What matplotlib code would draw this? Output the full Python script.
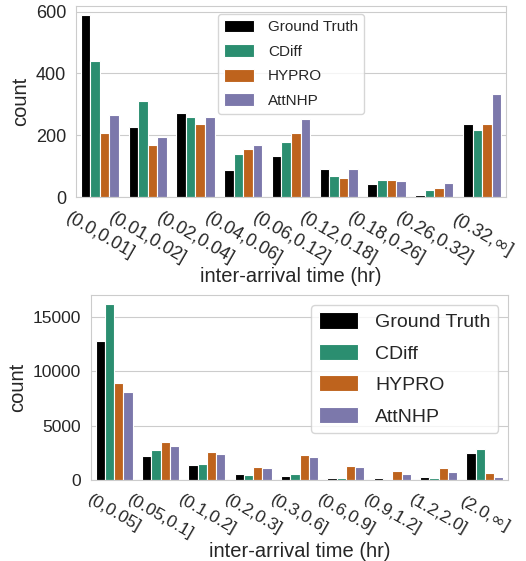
import matplotlib
matplotlib.use('Agg')
import matplotlib.pyplot as plt
import numpy as np
import seaborn as sns

sns.set_style('whitegrid')
plt.rcParams['font.family'] = ['Liberation Sans', 'DejaVu Sans']

# series names and colours (Dark2, desaturated like seaborn)
series = ['Ground Truth', 'CDiff', 'HYPRO', 'AttNHP']
colors = ['#000000', '#2b8e70', '#be631d', '#7c78ab']

# top panel
bins_top = ['(0.0,0.01]', '(0.01,0.02]', '(0.02,0.04]', '(0.04,0.06]', '(0.06,0.12]',
            '(0.12,0.18]', '(0.18,0.26]', '(0.26,0.32]', '(0.32,$\\infty$]']
gt_top = [589, 228, 273, 88, 133, 92, 43, 8, 237]
cdiff_top = [441, 311, 258, 140, 178, 68, 55, 24, 217]
hypro_top = [206, 170, 236, 154, 207, 61, 56, 29, 237]
attnhp_top = [264, 194, 259, 170, 251, 90, 52, 44, 333]

# bottom panel
bins_bot = ['(0,0.05]', '(0.05,0.1]', '(0.1,0.2]', '(0.2,0.3]', '(0.3,0.6]',
            '(0.6,0.9]', '(0.9,1.2]', '(1.2,2.0]', '(2.0,$\\infty$]']
gt_bot = [12740, 2185, 1354, 523, 400, 185, 154, 277, 2462]
cdiff_bot = [16185, 2738, 1508, 431, 523, 154, 62, 154, 2831]
hypro_bot = [8892, 3477, 2585, 1200, 2308, 1262, 800, 1077, 646]
attnhp_bot = [8123, 3108, 2431, 1108, 2092, 1169, 554, 708, 246]


def draw(ax, labels, data, tick_size, label_size, legend_size, legend_loc):
    x = np.arange(len(labels))
    width = 0.2
    for i, (name, vals, c) in enumerate(zip(series, data, colors)):
        ax.bar(x + (i - 1.5) * width, vals, width, color=c, label=name,
               edgecolor='white', linewidth=0.8)
    ax.set_xticks(x)
    ax.set_xticklabels(labels, rotation=-30, fontsize=tick_size)
    ax.tick_params(axis='y', labelsize=tick_size)
    ax.tick_params(axis='x', pad=5)
    ax.grid(False, axis='x')
    ax.set_xlim(-0.5, len(labels) - 0.5)
    ax.set_xlabel('inter-arrival time (hr)', fontsize=label_size, labelpad=0)
    ax.set_ylabel('count', fontsize=label_size)
    ax.legend(loc=legend_loc, fontsize=legend_size, handlelength=2.0,
              handleheight=0.9, handletextpad=0.9, labelspacing=0.65)


fig = plt.figure(figsize=(5.26, 5.61), dpi=100)
ax1 = fig.add_axes([0.1445, 0.6488, 0.8175, 0.3405])
ax2 = fig.add_axes([0.173, 0.1444, 0.793, 0.3298])

draw(ax1, bins_top, [gt_top, cdiff_top, hypro_top, attnhp_top], 13, 14.5, 11, 'upper center')
draw(ax2, bins_bot, [gt_bot, cdiff_bot, hypro_bot, attnhp_bot], 12.5, 14.5, 14, 'upper right')
ax1.set_yticks([0, 200, 400, 600])
ax2.set_yticks([0, 5000, 10000, 15000])

plt.savefig('out.png', dpi=100)
